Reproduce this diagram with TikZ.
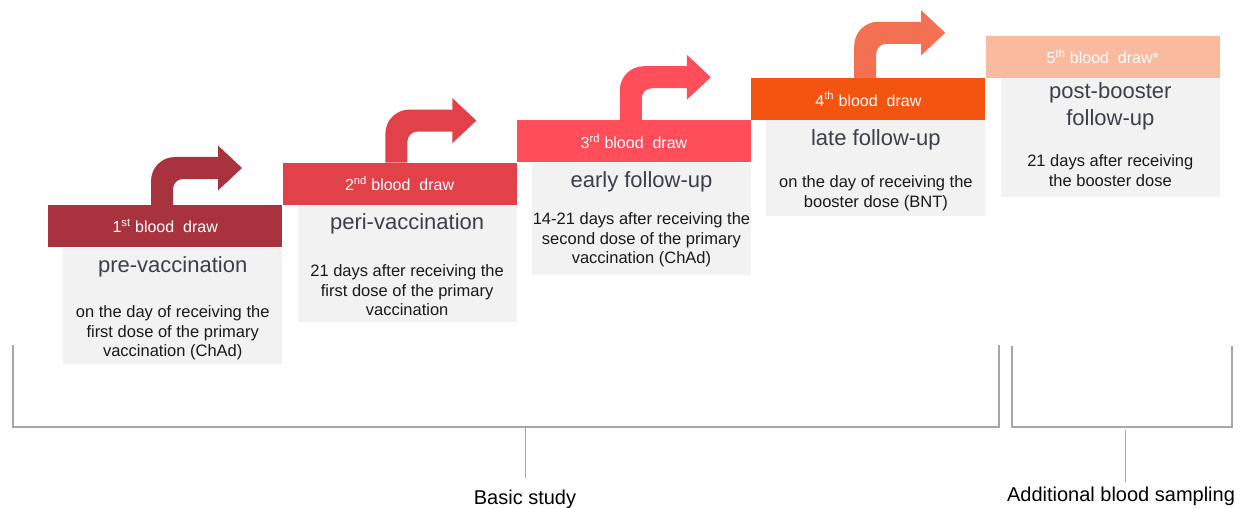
\documentclass[tikz,border=0pt]{standalone}
\usepackage{fontspec}
\setmainfont{Liberation Sans}
\usetikzlibrary{positioning}

\definecolor{drawA}{HTML}{A8333F}
\definecolor{drawB}{HTML}{E2414A}
\definecolor{drawC}{HTML}{FF4D5A}
\definecolor{drawD}{HTML}{F35410}
\definecolor{drawE}{HTML}{F9BA9E}
\definecolor{bendD}{HTML}{F37052}
\definecolor{cardgrey}{HTML}{F2F2F2}
\definecolor{titlegrey}{HTML}{3B3F4A}
\definecolor{rulegrey}{HTML}{A6A6A6}

\begin{document}
\begin{tikzpicture}[x=1pt, y=-1pt, node distance=0pt,
  band/.style={minimum width=234pt, minimum height=42pt, inner sep=0pt,
               text=white, font=\fontsize{16}{19}\selectfont},
  card/.style={fill=cardgrey, minimum width=219pt, inner sep=0pt},
  head/.style={text=titlegrey, align=center, inner sep=0pt,
               font=\fontsize{22}{27}\selectfont},
  body/.style={text=black!90, align=center, inner sep=0pt,
               font=\fontsize{16.5}{19.5}\selectfont},
  bracket/.style={draw=rulegrey, line width=1.2pt},
  tick/.style={draw=rulegrey, line width=0.9pt},
  foot/.style={anchor=base, inner sep=0pt, font=\fontsize{20}{24}\selectfont}]
\useasboundingbox (0,0) rectangle (1253,508);

% blood draws, stepping up to the right
\node[band, fill=drawA, anchor=north west] (b1) at (48,205) {1\textsuperscript{st} blood\ \ draw};
\node[band, fill=drawB, above right=of b1] (b2) {2\textsuperscript{nd} blood\ \ draw};
\node[band, fill=drawC, above right=of b2] (b3) {3\textsuperscript{rd} blood\ \ draw};
\node[band, fill=drawD, above right=of b3] (b4) {4\textsuperscript{th} blood\ \ draw};
\node[band, fill=drawE, above right=of b4] (b5) {5\textsuperscript{th} blood\ \ draw*};

% grey cards under each draw
\node[card, minimum height=116pt, below left=of b1.south east] (c1) {};
\node[card, minimum height=117pt, below left=of b2.south east] (c2) {};
\node[card, minimum height=112pt, below left=of b3.south east] (c3) {};
\node[card, minimum height=96pt,  below left=of b4.south east] (c4) {};
\node[card, minimum height=119pt, below left=of b5.south east] (c5) {};

\node[head] (t1) at ([yshift=-19pt]c1.north) {pre-vaccination};
\node[head] (t2) at ([yshift=-19pt]c2.north) {peri-vaccination};
\node[head] (t3) at ([yshift=-19pt]c3.north) {early follow-up};
\node[head] (t4) at ([yshift=-20pt]c4.north) {late follow-up};
\node[head] (t5) at ([yshift=-28.5pt]c5.north) {post-booster\\follow-up};

\node[body] (d1) at ([yshift=-85.5pt]c1.north) {on the day of receiving the\\first dose of the primary\\vaccination (ChAd)};
\node[body] (d2) at ([yshift=-85.5pt]c2.north) {21 days after receiving the\\first dose of the primary\\vaccination};
\node[body] (d3) at ([yshift=-77.5pt]c3.north) {14-21 days after receiving the\\second dose of the primary\\vaccination (ChAd)};
\node[body] (d4) at ([yshift=-73pt]c4.north) {on the day of receiving the\\booster dose (BNT)};
\node[body] (d5) at ([yshift=-93pt]c5.north) {21 days after receiving\\the booster dose};

% bent arrows on top of draws 1-4
\foreach \b/\r/\c in {b1/37/drawA, b2/42/drawB, b3/43/drawC, b4/45/bendD}
  \fill[\c, shift={(\b.north west)}]
    (103,0) -- (103,{-\r+13})
    .. controls (103,{-\r-0.3}) and (113.7,{-\r-11}) .. (127,{-\r-11})
    -- (170,{-\r-11}) -- (170,{-\r-22.5}) -- (194,-\r) -- (170,{-\r+22.5})
    -- (170,{-\r+11}) -- (135,{-\r+11})
    .. controls (129.5,{-\r+11}) and (125,{-\r+15.5}) .. (125,{-\r+21})
    -- (125,0) -- cycle;

% study brackets
\coordinate (m1) at (525,427);
\coordinate (m2) at (1125,430);
\draw[bracket] (13,345) -- (13,427) -- (999,427) -- (999,345);
\draw[bracket] (1012,346) -- (1012,427) -- (1232,427) -- (1232,346);
\node[foot] (basic) at (525,504) {Basic study};
\node[foot] (extra) at (1121,501) {Additional blood sampling};
\draw[tick, shorten >=11.4pt] (m1) -- (m1 |- basic.north);
\draw[tick, shorten >=4.4pt] (m2) -- (m2 |- extra.north);
\end{tikzpicture}
\end{document}
